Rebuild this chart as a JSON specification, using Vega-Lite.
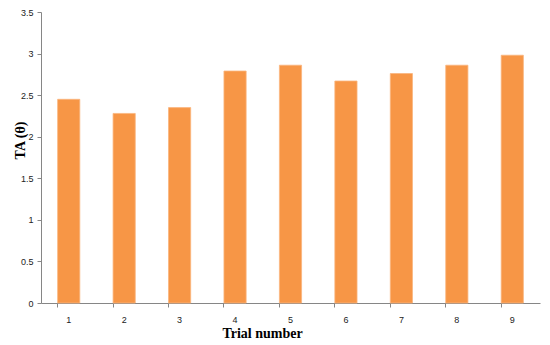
{
  "$schema": "https://vega.github.io/schema/vega-lite/v6.json",
  "autosize": "none",
  "padding": {"left": 41, "top": 12, "right": 10, "bottom": 42},
  "width": 499,
  "height": 291,
  "background": "white",
  "config": {"view": {"stroke": null}},
  "data": {"values": [
    {"trial": "1", "ta": 2.45},
    {"trial": "2", "ta": 2.28},
    {"trial": "3", "ta": 2.35},
    {"trial": "4", "ta": 2.79},
    {"trial": "5", "ta": 2.86},
    {"trial": "6", "ta": 2.67},
    {"trial": "7", "ta": 2.76},
    {"trial": "8", "ta": 2.86},
    {"trial": "9", "ta": 2.98}
  ]},
  "mark": {"type": "bar", "color": "#F79646", "stroke": "#FAB57E", "strokeWidth": 0.8},
  "encoding": {
    "x": {
      "field": "trial", "type": "ordinal",
      "scale": {"paddingInner": 0.6, "paddingOuter": 0.3},
      "axis": {
        "title": "Trial number", "labelAngle": 0, "bandPosition": 0, "labelOffset": 0,
        "domainColor": "#868686", "tickColor": "#868686", "tickSize": 4,
        "labelFont": "Liberation Sans", "labelFontSize": 9, "labelColor": "#222222", "labelPadding": 8,
        "titleFont": "Liberation Serif", "titleFontSize": 14, "titleFontWeight": "bold", "titleColor": "#000000",
        "titleX": 221, "titleY": 30, "titleBaseline": "middle", "titleAnchor": "middle"
      }
    },
    "y": {
      "field": "ta", "type": "quantitative",
      "scale": {"domain": [0, 3.5], "nice": false},
      "axis": {
        "title": "TA (θ)", "values": [0, 0.5, 1, 1.5, 2, 2.5, 3, 3.5], "format": "~g", "grid": false,
        "domainColor": "#868686", "tickColor": "#868686", "tickSize": 4,
        "labelFont": "Liberation Sans", "labelFontSize": 9, "labelColor": "#222222", "labelPadding": 4,
        "titleFont": "Liberation Serif", "titleFontSize": 14, "titleFontWeight": "bold", "titleColor": "#000000",
        "titleX": -21, "titleY": 128, "titleBaseline": "middle", "titleAnchor": "middle"
      }
    }
  }
}
